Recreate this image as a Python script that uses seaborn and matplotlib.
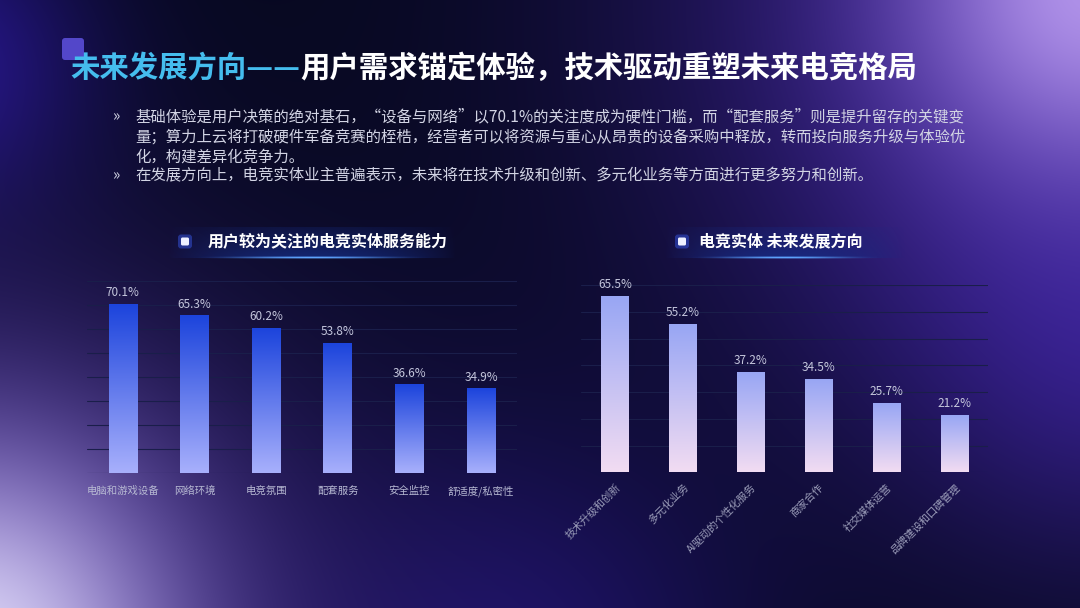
import numpy as np
import pandas as pd
import matplotlib
matplotlib.use("Agg")
import matplotlib.pyplot as plt
import seaborn as sns
from matplotlib.colors import LinearSegmentedColormap
from matplotlib.patches import FancyBboxPatch

# ---------------- data ----------------
left_categories = ["电脑和游戏设备", "网络环境", "电竞氛围", "配套服务", "安全监控", "舒适度/私密性"]
left_values = [70.1, 65.3, 60.2, 53.8, 36.6, 34.9]
right_categories = ["技术升级和创新", "多元化业务", "AI驱动的个性化服务", "商家合作", "社交媒体运营", "品牌建设和口碑管理"]
right_values = [65.5, 55.2, 37.2, 34.5, 25.7, 21.2]
left_yticks = [0, 10, 20, 30, 40, 50, 60, 70, 80]
right_yticks = [0, 10, 20, 30, 40, 50, 60, 70]

left_title = "用户较为关注的电竞实体服务能力"
right_title = "电竞实体 未来发展方向"
title_a = "未来发展方向——"
title_b = "用户需求锚定体验，技术驱动重塑未来电竞格局"
bullet_lines = [
    "基础体验是用户决策的绝对基石，“设备与网络”以70.1%的关注度成为硬性门槛，而“配套服务”则是提升留存的关键变",
    "量；算力上云将打破硬件军备竞赛的桎梏，经营者可以将资源与重心从昂贵的设备采购中释放，转而投向服务升级与体验优",
    "化，构建差异化竞争力。",
    "在发展方向上，电竞实体业主普遍表示，未来将在技术升级和创新、多元化业务等方面进行更多努力和创新。",
]
bullet_starts = [True, False, False, True]

# ---------------- style ----------------
sns.set_theme(style="white")
plt.rcParams["font.family"] = ["Noto Sans CJK SC", "DejaVu Sans"]

W, H = 1080, 608
fig = plt.figure(figsize=(W / 100, H / 100), dpi=100)

# ---------------- background ----------------
bg = fig.add_axes([0, 0, 1, 1], zorder=-10)
yy, xx = np.mgrid[0:H, 0:W]
img = np.zeros((H, W, 3))
img[:] = np.array([6, 8, 30]) / 255.0
glows = [
    (-60, 60, 150, (45, 25, 165), 0.75),
    (1080, 0, 400, (75, 40, 185), 0.85),
    (1120, 320, 220, (70, 40, 180), 0.6),
    (1095, -15, 180, (195, 165, 245), 0.85),
    (520, 670, 240, (45, 25, 150), 0.55),
    (-40, 650, 340, (88, 52, 190), 0.9),
    (-30, 655, 190, (228, 224, 250), 0.92),
]
for cx, cy, r, col, s in glows:
    d = np.hypot(xx - cx, yy - cy) / r
    w = (s * np.exp(-d ** 2))[..., None]
    img = img * (1 - w) + (np.array(col) / 255.0) * w
bg.imshow(np.clip(img, 0, 1), extent=[0, W, H, 0], aspect="auto", interpolation="bilinear", zorder=0)

# decorative square behind title
bg.add_patch(FancyBboxPatch((62, 38), 22, 22, boxstyle="round,pad=0,rounding_size=3",
                            facecolor="#5347c9", edgecolor="none", zorder=1))

# title
t1 = bg.text(70, 83, title_a, color="#45bdee", fontsize=21.2, fontweight="bold",
             ha="left", va="bottom", zorder=3)
bg.annotate(title_b, xy=(1, 0), xycoords=t1, color="white", fontsize=21.2,
            fontweight="bold", ha="left", va="bottom", zorder=3)

# bullets
line_y = [117, 137, 157, 176]
for txt, start, y in zip(bullet_lines, bullet_starts, line_y):
    if start:
        bg.text(112, y, "»", color="#d2d4e4", fontsize=11, ha="left", va="center", zorder=3)
    bg.text(135, y, txt, color="#d2d4e4", fontsize=11.1, ha="left", va="center", zorder=3)


def header(x0, x1, y0, y1, icon_x, text_x, text):
    n = 400
    t = np.linspace(0, 1, n)
    prof = np.sin(np.pi * t) ** 0.8
    vert = np.linspace(0.35, 1.0, 40)
    rgba = np.zeros((40, n, 4))
    rgba[..., :3] = np.array([22, 48, 140]) / 255.0
    rgba[..., 3] = vert[:, None] * prof[None, :] * 0.7
    bg.imshow(rgba, extent=[x0, x1, y1, y0], aspect="auto", zorder=1)
    line = np.zeros((3, n, 4))
    line[..., :3] = np.array([95, 165, 255]) / 255.0
    line[..., 3] = (prof ** 3)[None, :] * np.array([0.4, 1.0, 0.4])[:, None]
    bg.imshow(line, extent=[x0 + 15, x1 - 15, y1 + 1.5, y1 - 1.5], aspect="auto", zorder=2)
    yc = (y0 + y1) / 2 - 1
    bg.add_patch(FancyBboxPatch((icon_x - 7, yc - 7), 14, 14, boxstyle="round,pad=0,rounding_size=3",
                                facecolor="#3a5cf0", alpha=0.45, edgecolor="none", zorder=2))
    bg.add_patch(FancyBboxPatch((icon_x - 4, yc - 4), 8, 8, boxstyle="round,pad=0,rounding_size=1.5",
                                facecolor="#eef0ff", edgecolor="none", zorder=3))
    bg.text(text_x, yc, text, color="white", fontsize=11.5, fontweight="bold",
            ha="left", va="center", zorder=3)


header(168, 456, 227, 258, 185, 208, left_title)
header(665, 905, 227, 258, 682, 699, right_title)

bg.set_xlim(0, W)
bg.set_ylim(H, 0)
bg.axis("off")


# ---------------- charts ----------------
def gradient_bars(ax, top_col, bottom_col):
    cmap = LinearSegmentedColormap.from_list("g", [bottom_col, top_col])
    grad = np.linspace(1, 0, 256).reshape(-1, 1)
    xl, yl = ax.get_xlim(), ax.get_ylim()
    for p in ax.patches:
        x0, w, h = p.get_x(), p.get_width(), p.get_height()
        ax.imshow(grad, cmap=cmap, vmin=0, vmax=1, extent=[x0, x0 + w, 0, h],
                  aspect="auto", zorder=3, interpolation="bilinear")
        p.set_visible(False)
    ax.set_xlim(xl)
    ax.set_ylim(yl)


def style_axes(ax, yticks, ymax, tick_color):
    ax.set_ylim(0, ymax)
    ax.set_xlim(-0.5, 5.5)
    ax.set_yticks(yticks)
    ax.set_yticklabels([])
    ax.tick_params(axis="y", length=0)
    ax.tick_params(axis="x", length=0, colors=tick_color, labelsize=7.5, pad=9)
    ax.grid(axis="y", color="#1a1e4a", linewidth=0.8, zorder=0)
    ax.grid(axis="x", visible=False)
    ax.set_axisbelow(True)
    for s in ax.spines.values():
        s.set_visible(False)
    ax.set_xlabel("")
    ax.set_ylabel("")
    ax.patch.set_alpha(0)


dfL = pd.DataFrame({"cat": left_categories, "val": left_values})
axL = fig.add_axes([87 / W, 1 - 473.3 / H, 430 / W, (473.3 - 280.7) / H])
sns.barplot(data=dfL, x="cat", y="val", ax=axL, width=0.4, color="#5f78ee",
            saturation=1, linewidth=0, edgecolor="none")
style_axes(axL, left_yticks, 80, "#b6b8d2")
axL.bar_label(axL.containers[0], labels=[f"{v:.1f}%" for v in left_values],
              padding=4, color="#c4c6dc", fontsize=8.5)
gradient_bars(axL, "#1c44dc", "#a8b0fc")

dfR = pd.DataFrame({"cat": right_categories, "val": right_values})
axR = fig.add_axes([581 / W, 1 - 472.3 / H, 407 / W, (472.3 - 285) / H])
sns.barplot(data=dfR, x="cat", y="val", ax=axR, width=0.4, color="#c0c0f0",
            saturation=1, linewidth=0, edgecolor="none")
style_axes(axR, right_yticks, 70, "#9c9eba")
axR.bar_label(axR.containers[0], labels=[f"{v:.1f}%" for v in right_values],
              padding=4, color="#c4c6dc", fontsize=8.5)
gradient_bars(axR, "#98a6f4", "#f2dcf2")
plt.setp(axR.get_xticklabels(), rotation=45, ha="right", rotation_mode="anchor")
axR.tick_params(axis="x", pad=7)

fig.savefig("out.png", dpi=100)
